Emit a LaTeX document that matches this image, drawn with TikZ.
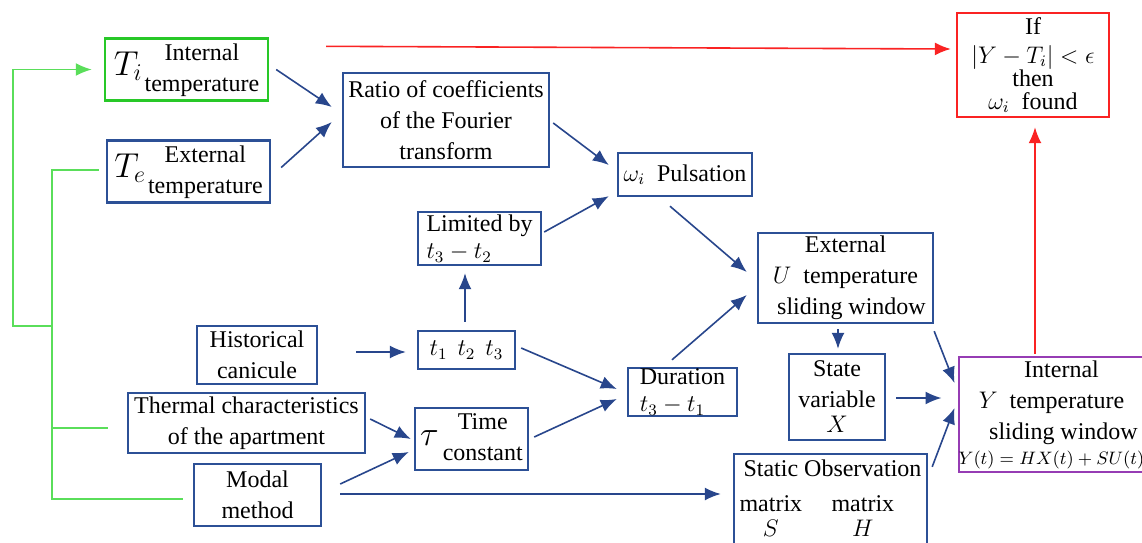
\documentclass[tikz,border=0pt]{standalone}
\usepackage[no-math]{fontspec}
\setmainfont{Liberation Serif}
\usetikzlibrary{arrows.meta}
\definecolor{bblue}{RGB}{44,80,150}
\definecolor{ablue}{RGB}{40,70,140}
\definecolor{gbox}{RGB}{40,200,40}
\definecolor{glin}{RGB}{90,222,90}
\definecolor{rred}{RGB}{250,35,35}
\definecolor{ppurple}{RGB}{150,60,180}
\tikzset{
  box/.style={draw=bblue, line width=1.2pt, rectangle, inner sep=0pt, align=center,
    font=\fontsize{12}{15.5}\selectfont},
  arr/.style={draw=ablue, line width=0.8pt, -{Latex[length=8pt,width=6.5pt]}},
  garr/.style={draw=glin, line width=0.9pt},
  rarr/.style={draw=rred, line width=0.8pt, -{Latex[length=8pt,width=6.5pt]}},
}
\begin{document}
\begin{tikzpicture}[x=0.5pt,y=-0.5pt]
\useasboundingbox (0,0) rectangle (1142,542);
% nodes
\node[box, draw=gbox, minimum width=81.5pt, minimum height=29.5pt] (Ti) at (186.5,69.5)
  {{\LARGE$T_i$}\hspace{1pt}\begin{tabular}{@{}c@{}}Internal\\temperature\end{tabular}};
\node[box, minimum width=81.5pt, minimum height=28.5pt] (Te) at (188.5,171.5)
  {{\LARGE$T_e$}\hspace{1pt}\begin{tabular}{@{}c@{}}External\\temperature\end{tabular}};
\node[box, minimum width=103pt, minimum height=47pt] (Ratio) at (446,120)
  {Ratio of coefficients\\of the Fourier\\transform};
\node[box, minimum width=67pt, minimum height=21.5pt] (Puls) at (685,174.5)
  {$\omega_i$\ \ Pulsation};
\node[box, align=left, minimum width=61.5pt, minimum height=26.5pt] (Lim) at (479.5,238.5)
  {Limited by\\[-2pt]$t_3-t_2$};
\node[box, minimum width=87.5pt, minimum height=45pt] (U) at (845.5,278)
  {External\\$U$\ \ temperature\hspace{6pt}\\\hspace{6pt}sliding window};
\node[box, minimum width=48pt, minimum height=43pt] (State) at (837,397)
  {State\\variable\\[-3pt]{\large$X$}};
\node[box, draw=ppurple, minimum width=88.5pt, minimum height=57.5pt] (Y) at (1051.5,414.5)
  {\hspace{10pt}Internal\\{\large$Y$}\ \ temperature\hspace{4pt}\\\hspace{12pt}sliding window\\[-3pt]{\fontsize{8.6}{10}\selectfont$Y(t)=HX(t)+SU(t)$}};
\node[box, minimum width=96.5pt, minimum height=46pt] (Static) at (830.5,500)
  {\raisebox{3pt}{\begin{tabular}{@{}c@{\hspace{1pt}}c@{}}Static&Observation\\[2pt]matrix&matrix\\[-3pt]{\large$S$}&{\large$H$}\end{tabular}}};
\node[box, draw=rred, minimum width=76pt, minimum height=52pt] (Red) at (1033,65)
  {If\\[-1pt]$|Y-T_i|<\epsilon$\\[-4pt]then\\[-4pt]$\omega_i$\ \ found};
\node[box, minimum width=60pt, minimum height=29pt] (Hist) at (257,355)
  {Historical\\canicule};
\node[box, minimum width=118.5pt, minimum height=30pt] (Therm) at (246.5,423)
  {Thermal characteristics\\of the apartment};
\node[box, minimum width=63.5pt, minimum height=31pt] (Modal) at (257.5,495)
  {Modal\\method};
\node[box, minimum width=48.5pt, minimum height=19pt] (t123) at (466.5,350)
  {{\large$t_1\hspace{5pt}t_2\hspace{5pt}t_3$}};
\node[box, minimum width=56.5pt, minimum height=29pt] (Tau) at (471.5,439)
  {{\LARGE$\tau$}\hspace{2pt}\begin{tabular}{@{}c@{}}Time\\constant\end{tabular}};
\node[box, align=left, minimum width=54.5pt, minimum height=24pt] (Dur) at (682.5,392)
  {Duration\\[-2pt]$t_3-t_1$};
% blue connectors
\draw[arr] ([shift={(7,0)}]Ti.east) -- ([shift={(-10,-13)}]Ratio.west);
\draw[arr] ([shift={(10,-4)}]Te.east) -- ([shift={(-10,2)}]Ratio.west);
\draw[arr] ([shift={(3,3)}]Ratio.east) -- ([shift={(-8,-9.5)}]Puls.west);
\draw[arr] ([shift={(2,-6.5)}]Lim.east) -- ([shift={(-8,-1)}]Puls.south west);
\draw[arr] ([shift={(-15,9)}]Puls.south) -- ([shift={(-10,-6)}]U.west);
\draw[arr] ([shift={(-1.5,-8)}]t123.north) -- ([shift={(-14.5,7)}]Lim.south);
\draw[arr] ([shift={(38,-3)}]Hist.east) -- ([shift={(-11,2)}]t123.west);
\draw[arr] ([shift={(5,-2)}]t123.east) -- ([shift={(-10,-3)}]Dur.west);
\draw[arr] ([shift={(-10.5,-7)}]Dur.north) -- ([shift={(-10,17)}]U.west);
\draw[arr] ([shift={(4,-4)}]Therm.east) -- ([shift={(-3,0)}]Tau.west);
\draw[arr] ([shift={(18,-11)}]Modal.east) -- ([shift={(-5,13)}]Tau.west);
\draw[arr] ([shift={(5,-2)}]Tau.east) -- ([shift={(-10,7)}]Dur.west);
\draw[arr] ([shift={(18,-1)}]Modal.east) -- ([shift={(-12,-6)}]Static.west);
\draw[arr] ([shift={(-7.5,5)}]U.south) -- ([shift={(1,-4)}]State.north);
\draw[arr] ([shift={(0,7)}]U.south east) -- ([shift={(-3,-31.5)}]Y.west);
\draw[arr] ([shift={(10,1)}]State.east) -- ([shift={(-16,-16.5)}]Y.west);
\draw[arr] ([shift={(4,14)}]Static.north east) -- ([shift={(-3,-6.5)}]Y.west);
% red connectors
\draw[rarr] ([shift={(-16.5,-2)}]Y.north) -- ([shift={(2,9)}]Red.south);
\draw[rarr] ([shift={(57,9)}]Ti.north east) -- ([shift={(-5,-16)}]Red.west);
% green connectors
\coordinate (gj) at (52,326);
\coordinate (gl) at (13,326);
\draw[garr] ([shift={(-7,-1.5)}]Te.west) -| (gj);
\draw[garr] ([shift={(-19,5)}]Therm.west) -| (gj);
\draw[garr] ([shift={(-10,4)}]Modal.west) -| (gj);
\draw[garr,-{Latex[length=8pt,width=6.5pt]}] (gj) -- (gl) |- ([shift={(-12,0)}]Ti.west);
\end{tikzpicture}
\end{document}
